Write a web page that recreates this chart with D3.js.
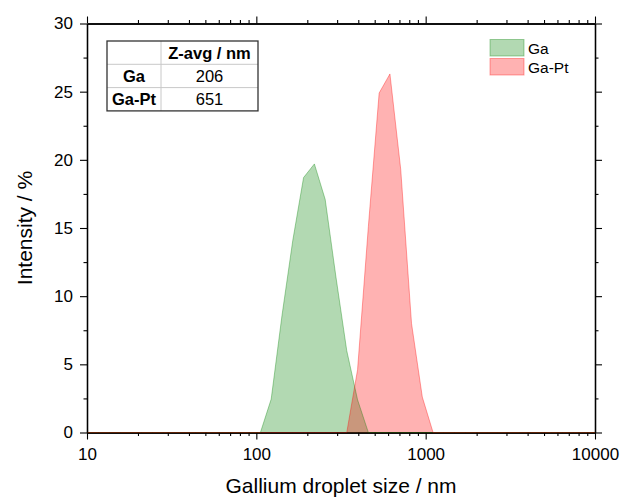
<!DOCTYPE html>
<html>
<head>
<meta charset="utf-8">
<script src="https://cdn.jsdelivr.net/npm/d3@7/dist/d3.min.js"></script>
<style>
  html, body { margin: 0; padding: 0; background: #fff; }
  svg { display: block; font-family: "Liberation Sans", Arial, sans-serif; }
</style>
</head>
<body>
<svg id="chart" width="622" height="497"></svg>
<script>
// ---- data ----
const sizes = [10.1, 11.7, 13.54, 15.69, 18.17, 21.04, 24.36, 28.21, 32.67, 37.84,
  43.82, 50.75, 58.77, 68.06, 78.82, 91.28, 105.7, 122.4, 141.8, 164.2,
  190.1, 220.2, 255.0, 295.3, 342.0, 396.1, 458.7, 531.2, 615.1, 712.4,
  825.0, 955.4, 1106, 1281, 1484, 1718, 1990, 2305, 2669, 3091,
  3580, 4145, 4801, 5560, 6439, 7456, 8635, 10000];
const gaValues = [0, 0, 0, 0, 0, 0, 0, 0, 0, 0,
  0, 0, 0, 0, 0, 0, 0, 2.45, 8.6, 14.1,
  18.7, 19.7, 17.1, 11.4, 6.0, 2.4, 0, 0, 0, 0,
  0, 0, 0, 0, 0, 0, 0, 0, 0, 0,
  0, 0, 0, 0, 0, 0, 0, 0];
const gaPtValues = [0, 0, 0, 0, 0, 0, 0, 0, 0, 0,
  0, 0, 0, 0, 0, 0, 0, 0, 0, 0,
  0, 0, 0, 0, 0, 4.6, 15.1, 24.9, 26.3, 19.3,
  8.0, 2.6, 0, 0, 0, 0, 0, 0, 0, 0,
  0, 0, 0, 0, 0, 0, 0, 0];
const seriesNames = ["Ga", "Ga-Pt"];
const xMajorTicks = [10, 100, 1000, 10000];
const xTickLabels = ["10", "100", "1000", "10000"];
const yMajorTicks = [0, 5, 10, 15, 20, 25, 30];
const yMinorTicks = [2.5, 7.5, 12.5, 17.5, 22.5, 27.5];
const tableHeader = ["", "Z-avg / nm"];
const tableRowNames = ["Ga", "Ga-Pt"];
const tableZavg = ["206", "651"];
const xTitle = "Gallium droplet size / nm";
const yTitle = "Intensity / %";

// ---- layout ----
const L = 87, R = 595, T = 23.5, B = 432.5;
const svg = d3.select("#chart");
const x = d3.scaleLog().domain([10, 10000]).range([L, R]);
const y = d3.scaleLinear().domain([0, 30]).range([B, T]);

const xMinor = [];
[10, 100, 1000].forEach(d => { for (let k = 2; k <= 9; k++) xMinor.push(d * k); });

const colors = ["#008000", "#ff0000"];

// ---- areas ----
const seriesData = [gaValues, gaPtValues].map(vals => sizes.map((s, i) => ({ s, v: vals[i] })));
const area = d3.area().x(d => x(d.s)).y0(y(0)).y1(d => y(d.v));
const line = d3.line().x(d => x(d.s)).y(d => y(d.v));

// ---- axes ----
function styleAxis(g) {
  g.selectAll("path.domain").attr("stroke", "#000").attr("stroke-width", 1.3);
  g.selectAll(".tick line").attr("stroke", "#000").attr("stroke-width", 1.1);
  g.selectAll(".tick text").attr("fill", "#000").attr("font-size", 17)
    .attr("font-family", '"Liberation Sans", Arial, sans-serif');
}
const fmtX = d => xTickLabels[xMajorTicks.indexOf(d)];

// bottom
svg.append("g").attr("transform", `translate(0,${B})`)
  .call(d3.axisBottom(x).tickValues(xMinor).tickSize(3.5).tickSizeOuter(0).tickFormat(""))
  .call(styleAxis);
svg.append("g").attr("transform", `translate(0,${B})`)
  .call(d3.axisBottom(x).tickValues(xMajorTicks).tickSize(7).tickPadding(8).tickSizeOuter(0).tickFormat(fmtX))
  .call(styleAxis);
// top
svg.append("g").attr("transform", `translate(0,${T})`)
  .call(d3.axisTop(x).tickValues(xMinor).tickSize(3.5).tickSizeOuter(0).tickFormat(""))
  .call(styleAxis);
svg.append("g").attr("transform", `translate(0,${T})`)
  .call(d3.axisTop(x).tickValues(xMajorTicks).tickSize(7).tickSizeOuter(0).tickFormat(""))
  .call(styleAxis);
// left
svg.append("g").attr("transform", `translate(${L},0)`)
  .call(d3.axisLeft(y).tickValues(yMinorTicks).tickSize(3.5).tickSizeOuter(0).tickFormat(""))
  .call(styleAxis);
svg.append("g").attr("transform", `translate(${L},0)`)
  .call(d3.axisLeft(y).tickValues(yMajorTicks).tickSize(7).tickPadding(7).tickSizeOuter(0).tickFormat(d3.format("d")))
  .call(styleAxis);
// right
svg.append("g").attr("transform", `translate(${R},0)`)
  .call(d3.axisRight(y).tickValues(yMinorTicks).tickSize(3.5).tickSizeOuter(0).tickFormat(""))
  .call(styleAxis);
svg.append("g").attr("transform", `translate(${R},0)`)
  .call(d3.axisRight(y).tickValues(yMajorTicks).tickSize(7).tickSizeOuter(0).tickFormat(""))
  .call(styleAxis);

// data on top
seriesData.forEach((d, i) => {
  svg.append("path").datum(d).attr("d", area)
    .attr("fill", colors[i]).attr("fill-opacity", 0.3).attr("stroke", "none");
});
seriesData.forEach((d, i) => {
  svg.append("path").datum(d).attr("d", line)
    .attr("fill", "none").attr("stroke", colors[i]).attr("stroke-opacity", 0.35).attr("stroke-width", 1);
});

// ---- titles ----
svg.append("text").attr("x", (L + R) / 2).attr("y", 493).attr("text-anchor", "middle")
  .attr("font-size", 21).attr("fill", "#000").text(xTitle);
svg.append("text").attr("transform", `translate(32,${(T + B) / 2}) rotate(-90)`)
  .attr("text-anchor", "middle").attr("font-size", 21).attr("fill", "#000").text(yTitle);

// ---- table ----
const tx0 = 107, tx1 = 161, tx2 = 258, ty0 = 41, rowH = 23.3;
const tbl = svg.append("g");
for (let r = 1; r < 3; r++) {
  tbl.append("line").attr("x1", tx0).attr("x2", tx2).attr("y1", ty0 + r * rowH).attr("y2", ty0 + r * rowH)
    .attr("stroke", "#c8c8c8").attr("stroke-width", 1);
}
tbl.append("line").attr("x1", tx1).attr("x2", tx1).attr("y1", ty0).attr("y2", ty0 + 3 * rowH)
  .attr("stroke", "#c8c8c8").attr("stroke-width", 1);
tbl.append("rect").attr("x", tx0).attr("y", ty0).attr("width", tx2 - tx0).attr("height", 3 * rowH)
  .attr("fill", "none").attr("stroke", "#333").attr("stroke-width", 1.3);
tbl.append("text").attr("x", (tx1 + tx2) / 2).attr("y", ty0 + rowH / 2 + 6)
  .attr("text-anchor", "middle").attr("font-size", 16.5).attr("font-weight", "bold").attr("fill", "#000").text(tableHeader[1]);
tableRowNames.forEach((n, i) => {
  const cy = ty0 + (i + 1.5) * rowH + 6;
  tbl.append("text").attr("x", (tx0 + tx1) / 2).attr("y", cy).attr("text-anchor", "middle")
    .attr("font-size", 16.5).attr("font-weight", "bold").attr("fill", "#000").text(n);
  tbl.append("text").attr("x", (tx1 + tx2) / 2).attr("y", cy).attr("text-anchor", "middle")
    .attr("font-size", 16.5).attr("fill", "#000").text(tableZavg[i]);
});

// ---- legend ----
const lg = svg.append("g");
seriesNames.forEach((n, i) => {
  const yy = 39.5 + i * 19;
  lg.append("rect").attr("x", 490).attr("y", yy).attr("width", 34).attr("height", 16.5)
    .attr("fill", colors[i]).attr("fill-opacity", 0.3)
    .attr("stroke", colors[i]).attr("stroke-opacity", 0.35).attr("stroke-width", 1);
  lg.append("text").attr("x", 528).attr("y", yy + 14).attr("font-size", 15.5).attr("fill", "#000").text(n);
});
</script>
</body>
</html>
